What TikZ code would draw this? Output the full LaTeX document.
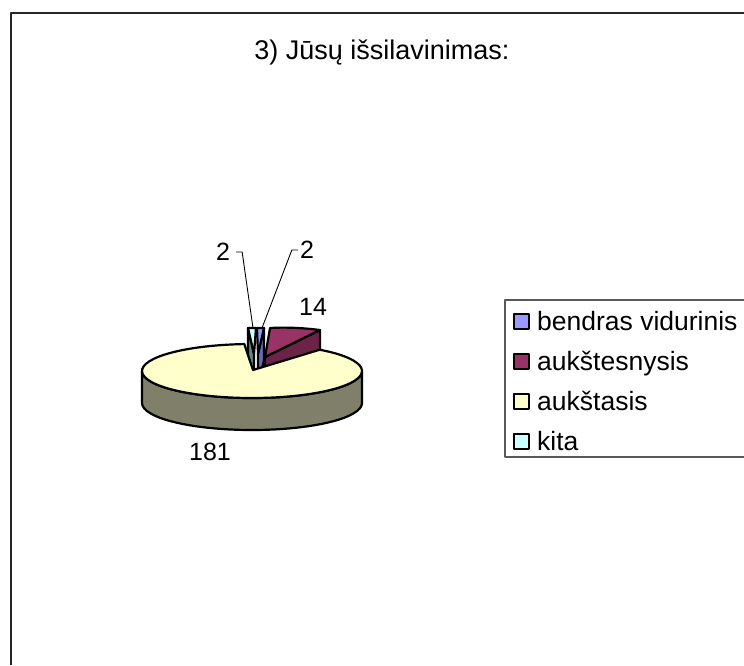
\documentclass[tikz,border=0pt]{standalone}
\usepackage{fontspec}
\setmainfont{Liberation Sans}
\definecolor{cBendras}{HTML}{9999FF}
\definecolor{cBendrasD}{HTML}{6A6AB8}
\definecolor{cAukstesn}{HTML}{993366}
\definecolor{cAukstesnD}{HTML}{6B2447}
\definecolor{cAukst}{HTML}{FFFFCC}
\definecolor{cAukstD}{HTML}{80806A}
\definecolor{cKita}{HTML}{CCFFFF}
\definecolor{cKitaD}{HTML}{5F8787}
\begin{document}
\begin{tikzpicture}[x=1pt,y=-1pt,line join=round,
	slice/.style={draw=black,line width=2.2pt},
	legsq/.style={draw=black,line width=2pt,minimum size=15pt,inner sep=0pt},
	legtxt/.style={font=\fontsize{26.5}{30}\selectfont,inner sep=0pt},
	lbl/.style={font=\fontsize{25}{28}\selectfont,inner sep=0pt},
	leader/.style={draw=black,line width=0.9pt}]
	\useasboundingbox (0,0) rectangle (744,665);
	\clip (0,0) rectangle (744,665);
	\draw[line width=2.2pt,black!85] (11,665) -- (11,13) -- (744,13);

	\node[font=\fontsize{27}{30}\selectfont,inner sep=0pt,anchor=base] (title) at (382,59) {3) Jūsų išsilavinimas:};

	% slices behind
	\filldraw[slice,fill=cKitaD] (254,354) -- (248,328) -- (248,360) -- (254,386) -- cycle;
	\filldraw[slice,fill=cKita] (254,354) -- (248,328) -- (256,328) -- cycle;
	\filldraw[slice,fill=cBendrasD] (258,354) -- (264,328) -- (264,360) -- (258,386) -- cycle;
	\filldraw[slice,fill=cBendras] (258,354) -- (257,328) -- (264,328) -- cycle;
	\filldraw[slice,fill=cAukstesnD] (265,357) -- (320,330) -- (320,362) -- (265,389) -- cycle;
	\filldraw[slice,fill=cAukstesn] (265,357) -- (270,328) .. controls (287,327) and (304,328) .. (320,330) -- cycle;
	% big slice
	\filldraw[slice,fill=cAukstD] (362,371) arc[start angle=0,end angle=180,x radius=110,y radius=27] -- ++(0,32) arc[start angle=180,end angle=0,x radius=110,y radius=27] -- cycle;
	\filldraw[slice,fill=cAukst] (253,370) -- ({252+110*cos(-52)},{371+27*sin(-52)}) arc[start angle=-52,end angle=266,x radius=110,y radius=27] -- cycle;

	% labels
	\node[lbl] (nKita) at (223,252) {2};
	\node[lbl] (nBendras) at (307,250) {2};
	\node[lbl] (nAukstesn) at (313,307) {14};
	\node[lbl] (nAukst) at (210,452) {181};
	\coordinate (pKita) at (253,328);
	\coordinate (pBendras) at (262,328);
	\draw[leader] (nKita.east) ++(6,0) -- ++(6,0) -- (pKita);
	\draw[leader] (nBendras.west) ++(-2,0) -- ++(-6,0) -- (pBendras);

	% legend
	\draw[line width=1.2pt,black!65] (760,300) -- (505,300) -- (505,457) -- (760,457);
	\foreach \name/\col/\txt/\y in {bv/cBendras/bendras vidurinis/321,au/cAukstesn/aukštesnysis/361,ak/cAukst/aukštasis/401,ki/cKita/kita/441}
	{
	\node[legsq,fill=\col] (sq\name) at (521,\y) {};
	\node[legtxt,anchor=base west] (t\name) at (537,\y+9) {\txt};
	}
\end{tikzpicture}
\end{document}
